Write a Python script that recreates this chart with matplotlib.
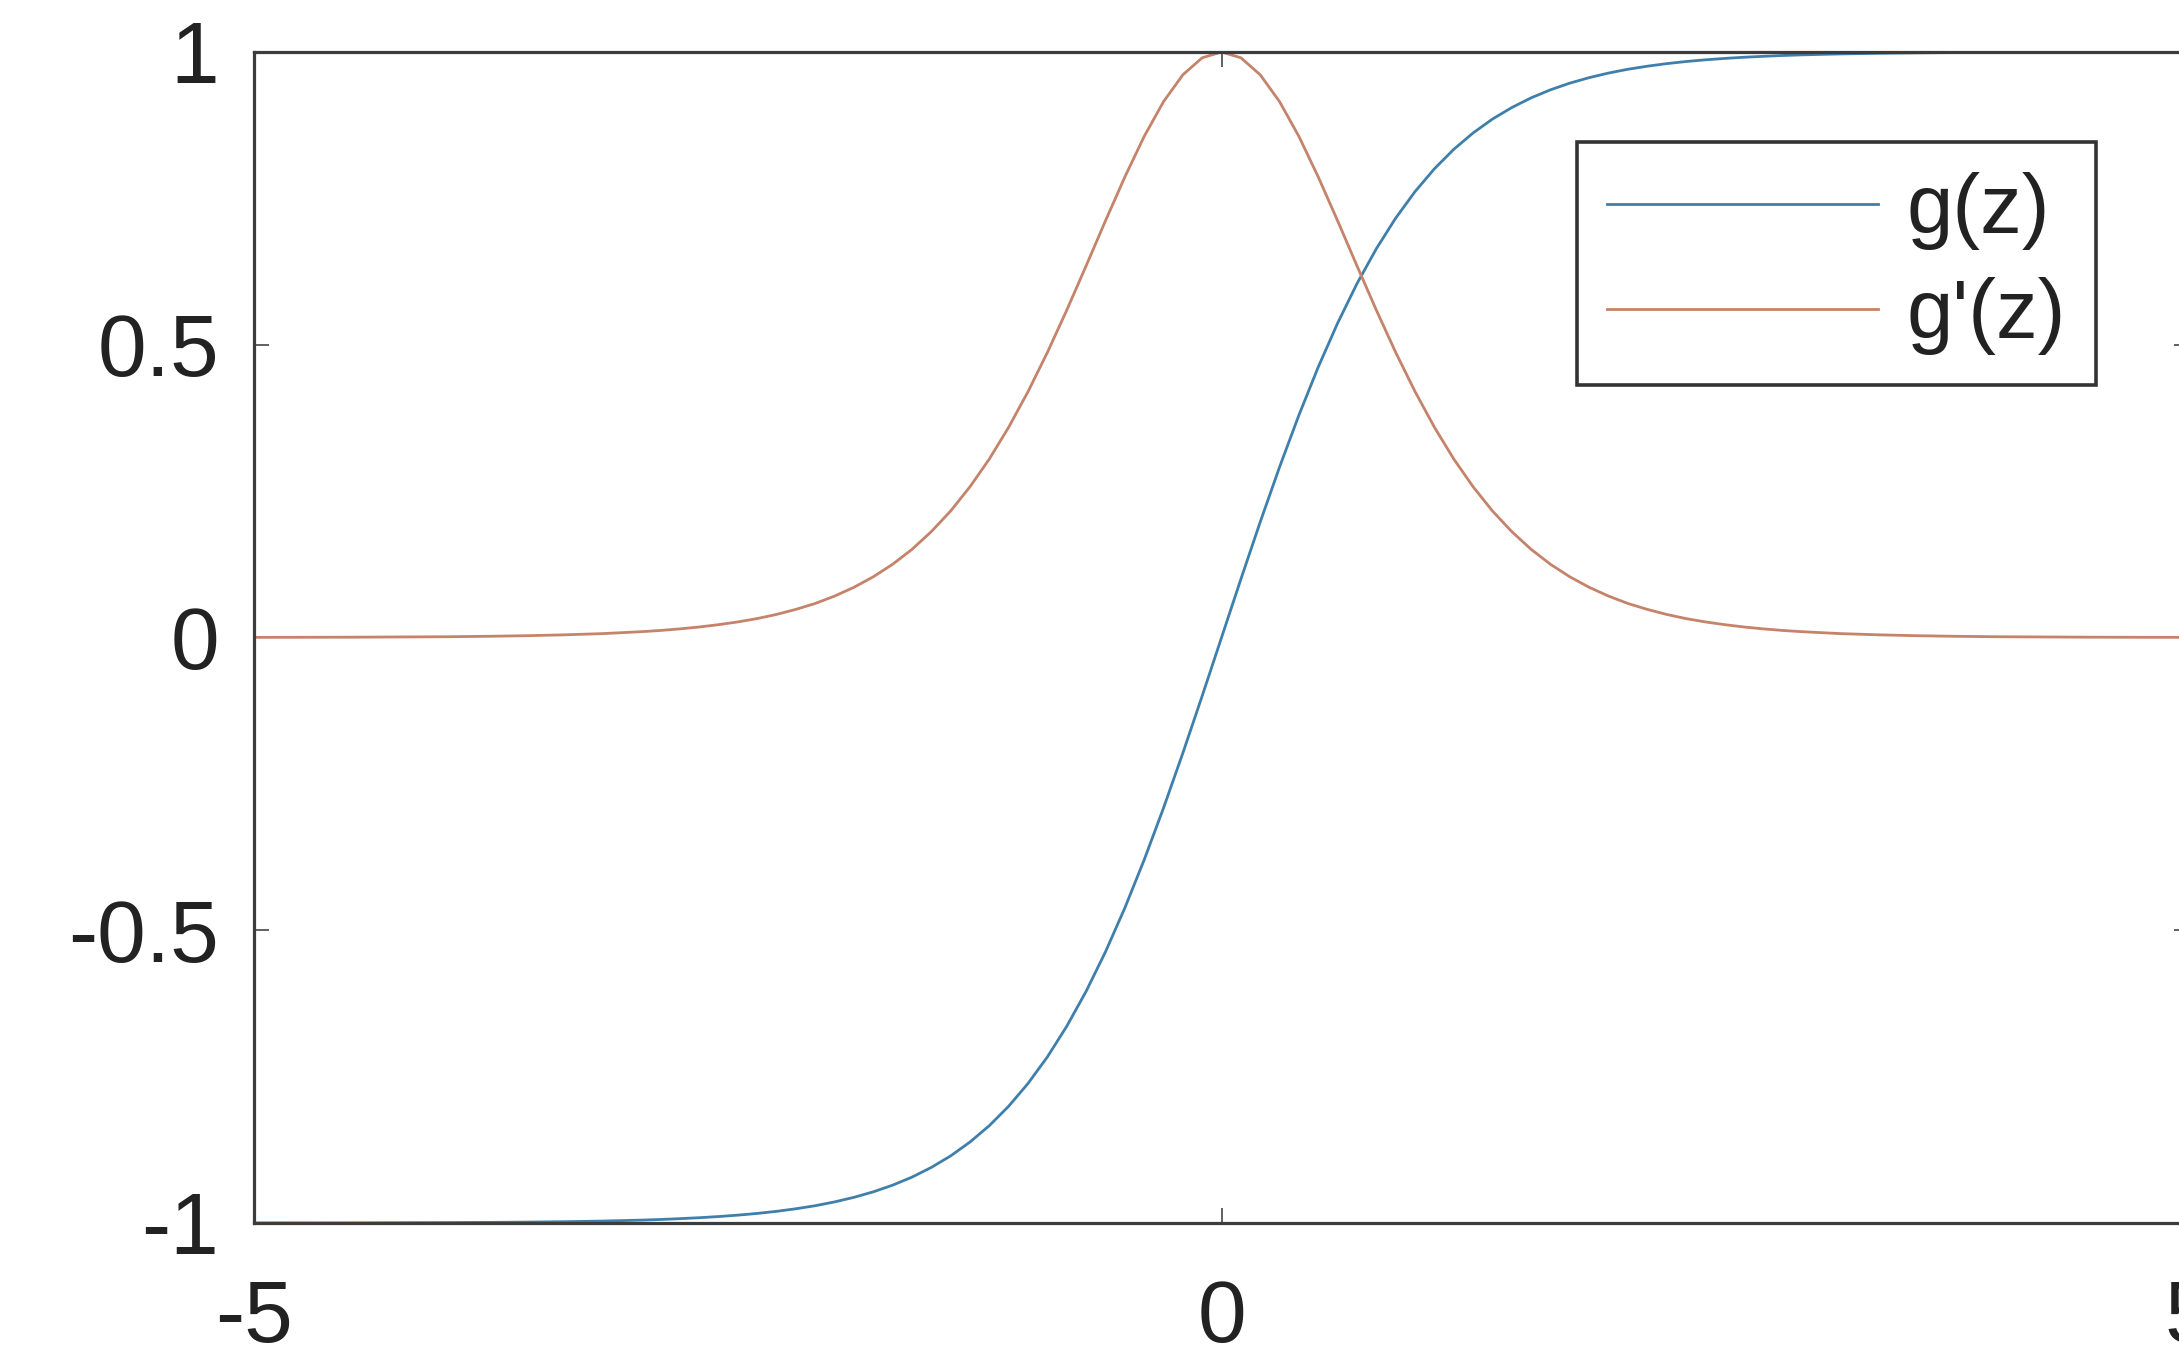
import matplotlib
matplotlib.use("Agg")
import matplotlib.pyplot as plt

plt.rcParams['font.family'] = ['Liberation Sans', 'DejaVu Sans']
plt.rcParams['axes.unicode_minus'] = False

z = [-5.0, -4.5, -4.0, -3.8, -3.6, -3.4, -3.2, -3.0, -2.9, -2.8, -2.7, -2.6, -2.5,
     -2.4, -2.3, -2.2, -2.1, -2.0, -1.9, -1.8, -1.7, -1.6, -1.5, -1.4, -1.3, -1.2,
     -1.1, -1.0, -0.9, -0.8, -0.7, -0.6, -0.5, -0.4, -0.3, -0.2, -0.1, 0.0,
     0.1, 0.2, 0.3, 0.4, 0.5, 0.6, 0.7, 0.8, 0.9, 1.0, 1.1, 1.2, 1.3, 1.4, 1.5,
     1.6, 1.7, 1.8, 1.9, 2.0, 2.1, 2.2, 2.3, 2.4, 2.5, 2.6, 2.7, 2.8, 2.9, 3.0,
     3.2, 3.4, 3.6, 3.8, 4.0, 4.5, 5.0]
g = [-0.9999, -0.9998, -0.9993, -0.9990, -0.9985, -0.9978, -0.9967, -0.9951, -0.9940,
     -0.9926, -0.9910, -0.9890, -0.9866, -0.9837, -0.9801, -0.9757, -0.9705, -0.9640,
     -0.9562, -0.9468, -0.9354, -0.9217, -0.9051, -0.8854, -0.8617, -0.8337, -0.8005,
     -0.7616, -0.7163, -0.6640, -0.6044, -0.5370, -0.4621, -0.3799, -0.2913, -0.1974,
     -0.0997, 0.0,
     0.0997, 0.1974, 0.2913, 0.3799, 0.4621, 0.5370, 0.6044, 0.6640, 0.7163, 0.7616,
     0.8005, 0.8337, 0.8617, 0.8854, 0.9051, 0.9217, 0.9354, 0.9468, 0.9562, 0.9640,
     0.9705, 0.9757, 0.9801, 0.9837, 0.9866, 0.9890, 0.9910, 0.9926, 0.9940, 0.9951,
     0.9967, 0.9978, 0.9985, 0.9990, 0.9993, 0.9998, 0.9999]
dg = [0.0002, 0.0005, 0.0013, 0.0020, 0.0030, 0.0045, 0.0066, 0.0099, 0.0120, 0.0147,
      0.0179, 0.0219, 0.0266, 0.0323, 0.0394, 0.0480, 0.0581, 0.0707, 0.0857, 0.1036,
      0.1250, 0.1505, 0.1808, 0.2161, 0.2575, 0.3049, 0.3592, 0.4200, 0.4869, 0.5591,
      0.6347, 0.7116, 0.7864, 0.8557, 0.9151, 0.9610, 0.9901, 1.0,
      0.9901, 0.9610, 0.9151, 0.8557, 0.7864, 0.7116, 0.6347, 0.5591, 0.4869, 0.4200,
      0.3592, 0.3049, 0.2575, 0.2161, 0.1808, 0.1505, 0.1250, 0.1036, 0.0857, 0.0707,
      0.0581, 0.0480, 0.0394, 0.0323, 0.0266, 0.0219, 0.0179, 0.0147, 0.0120, 0.0099,
      0.0066, 0.0045, 0.0030, 0.0020, 0.0013, 0.0005, 0.0002]
labels = ['g(z)', "g'(z)"]
xticks = [-5, 0, 5]
yticks = [-1, -0.5, 0, 0.5, 1]
yticklabels = ['-1', '-0.5', '0', '0.5', '1']

fig = plt.figure(figsize=(21.79, 13.68), dpi=100)
ax = fig.add_axes([0.1166, 0.106, 0.888, 0.856])
ax.plot(z, g, color='#3f7fab', lw=2.0, label=labels[0])
ax.plot(z, dg, color='#c4836a', lw=2.0, label=labels[1])
ax.set_xlim(-5, 5)
ax.set_ylim(-1, 1)
ax.set_xticks(xticks)
ax.set_xticklabels([str(t) for t in xticks])
ax.set_yticks(yticks)
ax.set_yticklabels(yticklabels)
for s in ax.spines.values():
    s.set_color('#3c3c3c')
    s.set_linewidth(2.3)
ax.tick_params(direction='in', length=11, width=1.4, color='#606060',
               top=True, right=True, labelsize=63, labelcolor='#222222')
ax.tick_params(axis='x', pad=40)
ax.tick_params(axis='y', pad=25)

leg = ax.legend(loc='upper left', bbox_to_anchor=(1577/2179, 1-142/1368),
                bbox_transform=fig.transFigure, borderaxespad=0, fontsize=60,
                handlelength=3.25, handletextpad=0.35, labelspacing=0.32,
                borderpad=0.36, fancybox=False, framealpha=1)
leg.get_frame().set_edgecolor('#333333')
leg.get_frame().set_linewidth(2.6)
for t in leg.get_texts():
    t.set_color('#222222')

fig.savefig('out.png', dpi=100)
